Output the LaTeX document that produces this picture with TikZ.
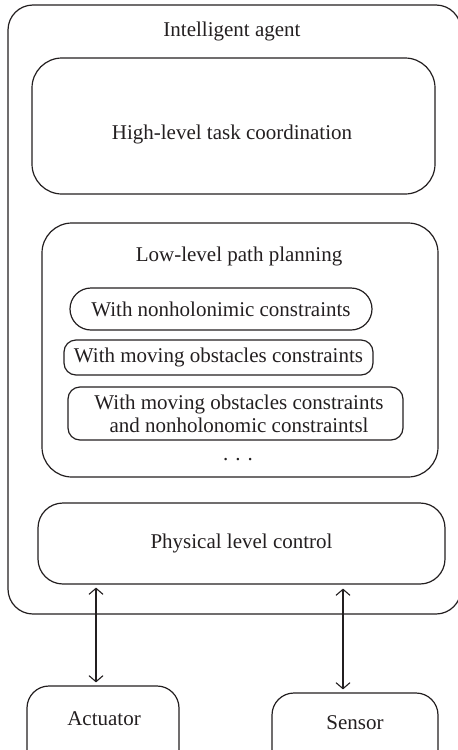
\documentclass[tikz,border=0pt]{standalone}
\usepackage{fontspec}
\setmainfont{Liberation Serif}
\usetikzlibrary{arrows.meta}
\definecolor{ink}{RGB}{35,31,32}
\begin{document}
\begin{tikzpicture}[x=1pt,y=-1pt,
  box/.style={draw=ink, line width=1.2pt, inner sep=0pt},
  lbl/.style={text=ink, font=\fontsize{21}{23}\selectfont, inner sep=0pt, align=center},
  biarrow/.style={draw=ink, line width=1.1pt, {Straight Barb[length=6pt,width=14pt]}-{Straight Barb[length=6pt,width=14pt]}}
]
\useasboundingbox (0,0) rectangle (458,750);
\clip (0,0) rectangle (458,750);
% boxes
\node[box, rounded corners=25pt, minimum width=453pt, minimum height=609pt] (agent) at (234.5,309.5) {};
\node[lbl] (agentlbl) at (232,31.5) {Intelligent agent};
\node[box, rounded corners=30pt, minimum width=403pt, minimum height=136pt] (high) at (233.5,126) {};
\node[lbl] (highlbl) at (232,134) {High-level task coordination};
\node[box, rounded corners=30pt, minimum width=396pt, minimum height=254pt] (low) at (240,350) {};
\node[lbl] (lowlbl) at (239,256) {Low-level path planning};
\node[box, lbl, rounded corners=21pt, minimum width=302pt, minimum height=42pt] (p1) at (221,309) {With nonholonimic constraints};
\node[box, lbl, rounded corners=12pt, minimum width=309pt, minimum height=35pt] (p2) at (218.5,357.5) {With moving obstacles constraints};
\node[box, rounded corners=12pt, minimum width=335pt, minimum height=53pt] (p3) at (235.5,413.5) {};
\node[lbl] (p3lbl) at (239,414) {With moving obstacles constraints\\ and nonholonomic constraintsl};
\node[lbl] (dots) at (238,460) {.\,\,.\,\,.};
\node[box, lbl, rounded corners=25pt, minimum width=407pt, minimum height=81pt] (phys) at (241.5,543.5) {Physical level control};
\node[box, rounded corners=22pt, minimum width=152pt, minimum height=90pt] (act) at (103,731) {};
\node[lbl] (actlbl) at (104,719) {Actuator};
\node[box, rounded corners=22pt, minimum width=166pt, minimum height=90pt] (sens) at (355,738) {};
\node[lbl] (senslbl) at (355,723) {Sensor};
% connectors
\coordinate (a1) at (96,0);
\coordinate (a2) at (343,0);
\draw[biarrow, shorten <=3pt, shorten >=3pt] (phys.south -| a1) -- (act.north -| a1);
\draw[biarrow, shorten <=4pt, shorten >=3pt] (phys.south -| a2) -- (sens.north -| a2);
\end{tikzpicture}
\end{document}
